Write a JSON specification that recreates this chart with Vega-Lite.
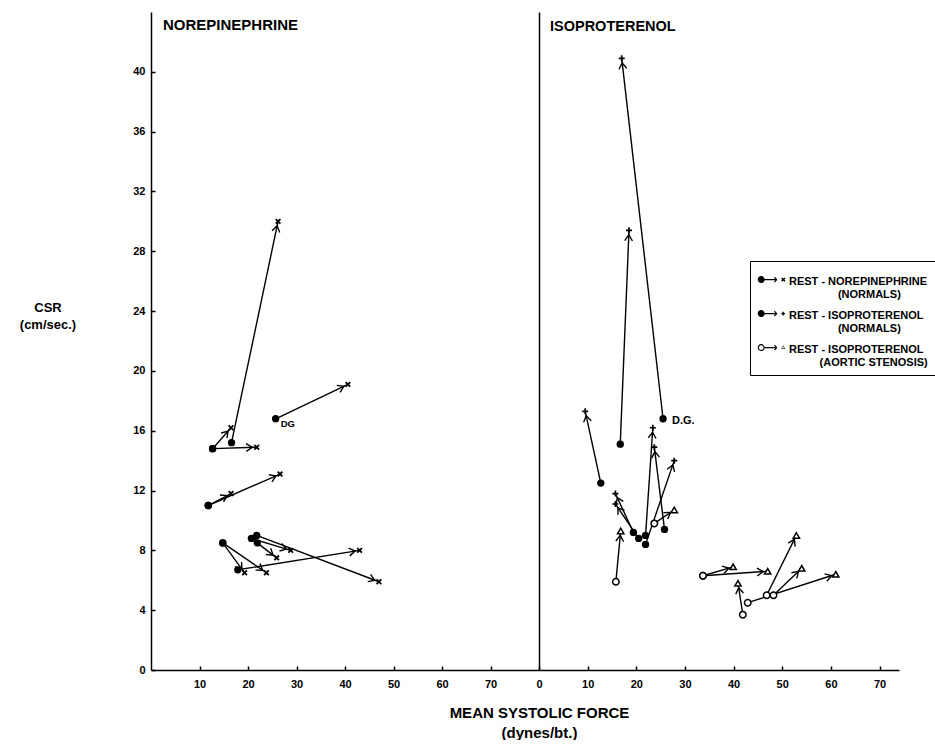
{
  "$schema": "https://vega.github.io/schema/vega-lite/v6.json",
  "padding": {"left": 19, "top": 12, "right": 0, "bottom": 0},
  "autosize": {"type": "pad"},
  "background": "white",
  "config": {
    "view": {"stroke": null},
    "font": "Liberation Sans",
    "axis": {
      "grid": false,
      "domainColor": "black",
      "domainWidth": 1.5,
      "tickColor": "black",
      "tickWidth": 1.5,
      "labelColor": "black",
      "labelFont": "Liberation Sans",
      "labelFontWeight": "bold",
      "labelFontSize": 11,
      "labelFlush": false,
      "titleColor": "black",
      "titleFont": "Liberation Sans",
      "titleFontWeight": "bold"
    }
  },
  "data": {
    "values": [
      {"p": "NE", "s": "NE", "x1": 12.7, "y1": 14.8, "x2": 21.8, "y2": 14.9},
      {"p": "NE", "s": "NE", "x1": 12.7, "y1": 14.8, "x2": 16.5, "y2": 16.2},
      {"p": "NE", "s": "NE", "x1": 16.6, "y1": 15.2, "x2": 26.2, "y2": 30.0},
      {"p": "NE", "s": "NE", "x1": 25.7, "y1": 16.8, "x2": 40.6, "y2": 19.1, "lab": "DG"},
      {"p": "NE", "s": "NE", "x1": 11.8, "y1": 11.0, "x2": 16.5, "y2": 11.8},
      {"p": "NE", "s": "NE", "x1": 11.8, "y1": 11.0, "x2": 26.6, "y2": 13.1},
      {"p": "NE", "s": "NE", "x1": 14.8, "y1": 8.5, "x2": 19.3, "y2": 6.5},
      {"p": "NE", "s": "NE", "x1": 14.8, "y1": 8.5, "x2": 23.8, "y2": 6.5},
      {"p": "NE", "s": "NE", "x1": 17.9, "y1": 6.7, "x2": 43.0, "y2": 8.0},
      {"p": "NE", "s": "NE", "x1": 20.7, "y1": 8.8, "x2": 28.8, "y2": 8.0},
      {"p": "NE", "s": "NE", "x1": 21.9, "y1": 8.5, "x2": 25.9, "y2": 7.5},
      {"p": "NE", "s": "NE", "x1": 21.8, "y1": 9.0, "x2": 47.0, "y2": 5.9},
      {"p": "ISO", "s": "ISO", "x1": 25.5, "y1": 16.8, "x2": 17.0, "y2": 40.9, "lab": "D.G."},
      {"p": "ISO", "s": "ISO", "x1": 16.7, "y1": 15.1, "x2": 18.5, "y2": 29.4},
      {"p": "ISO", "s": "ISO", "x1": 12.7, "y1": 12.5, "x2": 9.5, "y2": 17.3},
      {"p": "ISO", "s": "ISO", "x1": 19.4, "y1": 9.2, "x2": 15.7, "y2": 11.8},
      {"p": "ISO", "s": "ISO", "x1": 20.5, "y1": 8.8, "x2": 15.7, "y2": 11.1},
      {"p": "ISO", "s": "ISO", "x1": 21.9, "y1": 9.0, "x2": 23.4, "y2": 16.2},
      {"p": "ISO", "s": "ISO", "x1": 21.9, "y1": 8.4, "x2": 27.8, "y2": 14.0},
      {"p": "ISO", "s": "ISO", "x1": 25.8, "y1": 9.4, "x2": 23.7, "y2": 14.9},
      {"p": "ISO", "s": "AS", "x1": 15.8, "y1": 5.9, "x2": 16.8, "y2": 9.3},
      {"p": "ISO", "s": "AS", "x1": 23.7, "y1": 9.8, "x2": 27.8, "y2": 10.7},
      {"p": "ISO", "s": "AS", "x1": 33.7, "y1": 6.3, "x2": 39.9, "y2": 6.9},
      {"p": "ISO", "s": "AS", "x1": 33.7, "y1": 6.3, "x2": 47.0, "y2": 6.6},
      {"p": "ISO", "s": "AS", "x1": 41.9, "y1": 3.7, "x2": 40.9, "y2": 5.8},
      {"p": "ISO", "s": "AS", "x1": 42.9, "y1": 4.5, "x2": 61.0, "y2": 6.4},
      {"p": "ISO", "s": "AS", "x1": 46.8, "y1": 5.0, "x2": 52.9, "y2": 9.0},
      {"p": "ISO", "s": "AS", "x1": 48.2, "y1": 5.0, "x2": 54.0, "y2": 6.8}
    ]
  },
  "spacing": 0,
  "bounds": "flush",
  "hconcat": [
    {
      "width": 388,
      "height": 658,
      "title": {"text": "NOREPINEPHRINE", "anchor": "start", "frame": "group", "dx": 12, "offset": -33, "baseline": "alphabetic", "fontSize": 15, "fontWeight": "bold", "font": "Liberation Sans", "color": "black"},
      "transform": [
        {"filter": "datum.p === 'NE'"},
        {"calculate": "atan2((datum.y1 - datum.y2) * 14.955, (datum.x2 - datum.x1) * 4.85) * 180 / PI", "as": "ang"}
      ],
      "layer": [
        {
          "mark": {"type": "rule", "stroke": "black", "strokeWidth": 1.4},
          "encoding": {
            "x": {"field": "x1", "type": "quantitative", "scale": {"domain": [0, 80], "nice": false},
              "axis": {"values": [10, 20, 30, 40, 50, 60, 70], "tickSize": -4, "labelPadding": 12,
                "title": ["MEAN SYSTOLIC FORCE", "(dynes/bt.)"], "titleFontSize": 15, "titleX": 388, "titleY": 47,
                "titleAlign": "center", "titleBaseline": "alphabetic", "titleLineHeight": 20}},
            "y": {"field": "y1", "type": "quantitative", "scale": {"domain": [0, 44], "nice": false},
              "axis": {"values": [0, 4, 8, 12, 16, 20, 24, 28, 32, 36, 40], "tickSize": -4, "labelPadding": 10,
                "title": ["CSR", "(cm/sec.)"], "titleFontSize": 13, "titleAngle": 0, "titleX": -103.5, "titleY": 299,
                "titleAlign": "center", "titleBaseline": "alphabetic", "titleLineHeight": 17}},
            "x2": {"field": "x2"},
            "y2": {"field": "y2"}
          }
        },
        {
          "mark": {"type": "point", "shape": "M-3.5,-1.3L-1.5,0L-3.5,1.3", "filled": false, "stroke": "black", "strokeWidth": 1.4, "size": 36, "opacity": 1},
          "encoding": {
            "x": {"field": "x2", "type": "quantitative"},
            "y": {"field": "y2", "type": "quantitative"},
            "angle": {"field": "ang", "type": "quantitative", "scale": null}
          }
        },
        {
          "mark": {"type": "point", "shape": "circle", "filled": true, "fill": "black", "size": 54, "opacity": 1},
          "encoding": {
            "x": {"field": "x1", "type": "quantitative"},
            "y": {"field": "y1", "type": "quantitative"}
          }
        },
        {
          "mark": {"type": "point", "shape": "M-1,-1L1,1M-1,1L1,-1", "filled": false, "stroke": "black", "strokeWidth": 1.8, "size": 22, "opacity": 1},
          "encoding": {
            "x": {"field": "x2", "type": "quantitative"},
            "y": {"field": "y2", "type": "quantitative"}
          }
        },
        {
          "transform": [{"filter": "datum.lab"}],
          "mark": {"type": "text", "align": "left", "baseline": "middle", "dx": 5, "dy": 5, "fontSize": 9.5, "fontWeight": "bold", "font": "Liberation Sans", "color": "black"},
          "encoding": {
            "x": {"field": "x1", "type": "quantitative"},
            "y": {"field": "y1", "type": "quantitative"},
            "text": {"field": "lab"}
          }
        }
      ]
    },
    {
      "width": 360,
      "height": 658,
      "title": {"text": "ISOPROTERENOL", "anchor": "start", "frame": "group", "dx": 11, "offset": -33, "baseline": "alphabetic", "fontSize": 14.5, "fontWeight": "bold", "font": "Liberation Sans", "color": "black"},
      "transform": [
        {"filter": "datum.p === 'ISO'"},
        {"calculate": "atan2((datum.y1 - datum.y2) * 14.955, (datum.x2 - datum.x1) * 4.865) * 180 / PI", "as": "ang"}
      ],
      "layer": [
        {
          "mark": {"type": "rule", "stroke": "black", "strokeWidth": 1.4},
          "encoding": {
            "x": {"field": "x1", "type": "quantitative", "scale": {"domain": [0, 74], "nice": false},
              "axis": {"values": [0, 10, 20, 30, 40, 50, 60, 70], "tickSize": -4, "labelPadding": 12, "title": null}},
            "y": {"field": "y1", "type": "quantitative", "scale": {"domain": [0, 44], "nice": false},
              "axis": {"labels": false, "ticks": false, "title": null, "domain": true}},
            "x2": {"field": "x2"},
            "y2": {"field": "y2"}
          }
        },
        {
          "mark": {"type": "point", "shape": "M-3.5,-1.3L-1.5,0L-3.5,1.3", "filled": false, "stroke": "black", "strokeWidth": 1.4, "size": 36, "opacity": 1},
          "encoding": {
            "x": {"field": "x2", "type": "quantitative"},
            "y": {"field": "y2", "type": "quantitative"},
            "angle": {"field": "ang", "type": "quantitative", "scale": null}
          }
        },
        {
          "transform": [{"filter": "datum.s === 'ISO'"}],
          "mark": {"type": "point", "shape": "circle", "filled": true, "fill": "black", "size": 54, "opacity": 1},
          "encoding": {
            "x": {"field": "x1", "type": "quantitative"},
            "y": {"field": "y1", "type": "quantitative"}
          }
        },
        {
          "transform": [{"filter": "datum.s === 'AS'"}],
          "mark": {"type": "point", "shape": "circle", "filled": false, "fill": "white", "stroke": "black", "strokeWidth": 1.5, "size": 42, "opacity": 1},
          "encoding": {
            "x": {"field": "x1", "type": "quantitative"},
            "y": {"field": "y1", "type": "quantitative"}
          }
        },
        {
          "transform": [{"filter": "datum.s === 'ISO'"}],
          "mark": {"type": "point", "shape": "M-1,0L1,0M0,-1L0,1", "filled": false, "stroke": "black", "strokeWidth": 1.7, "size": 36, "opacity": 1},
          "encoding": {
            "x": {"field": "x2", "type": "quantitative"},
            "y": {"field": "y2", "type": "quantitative"}
          }
        },
        {
          "transform": [{"filter": "datum.s === 'AS'"}],
          "mark": {"type": "point", "shape": "triangle-up", "filled": false, "fill": "white", "stroke": "black", "strokeWidth": 1.5, "size": 40, "opacity": 1},
          "encoding": {
            "x": {"field": "x2", "type": "quantitative"},
            "y": {"field": "y2", "type": "quantitative"}
          }
        },
        {
          "transform": [{"filter": "datum.lab"}],
          "mark": {"type": "text", "align": "left", "baseline": "middle", "dx": 9, "dy": 2, "fontSize": 11, "fontWeight": "bold", "font": "Liberation Sans", "color": "black"},
          "encoding": {
            "x": {"field": "x1", "type": "quantitative"},
            "y": {"field": "y1", "type": "quantitative"},
            "text": {"field": "lab"}
          }
        },
        {
          "transform": [{"filter": "false"}],
          "mark": {"type": "point", "filled": true, "color": "black", "strokeWidth": 0, "size": 784, "opacity": 1},
          "encoding": {
            "x": {"field": "x1", "type": "quantitative"},
            "y": {"field": "y1", "type": "quantitative"},
            "shape": {"field": "s", "type": "nominal",
              "scale": {"domain": ["NE", "ISO", "AS"], "range": [
                "M-0.45,-0.17A0.25,0.25,0,1,1,-0.95,-0.17A0.25,0.25,0,1,1,-0.45,-0.17Z M-0.45,-0.22L0.41,-0.22L0.41,-0.12L-0.45,-0.12Z M0.267,-0.369L0.447,-0.199L0.393,-0.141L0.213,-0.311Z M0.213,-0.029L0.393,-0.199L0.447,-0.141L0.267,0.029Z M0.795,-0.325L1.035,-0.085L0.965,-0.015L0.725,-0.255Z M0.725,-0.085L0.965,-0.325L1.035,-0.255L0.795,-0.015Z",
                "M-0.45,-0.17A0.25,0.25,0,1,1,-0.95,-0.17A0.25,0.25,0,1,1,-0.45,-0.17Z M-0.45,-0.22L0.41,-0.22L0.41,-0.12L-0.45,-0.12Z M0.267,-0.369L0.447,-0.199L0.393,-0.141L0.213,-0.311Z M0.213,-0.029L0.393,-0.199L0.447,-0.141L0.267,0.029Z M0.74,-0.22L1.0,-0.22L1.0,-0.12L0.74,-0.12Z M0.82,-0.3L0.92,-0.3L0.92,-0.04L0.82,-0.04Z",
                "M-0.45,-0.17A0.25,0.25,0,1,1,-0.95,-0.17A0.25,0.25,0,1,1,-0.45,-0.17Z M-0.53,-0.17A0.17,0.17,0,1,0,-0.87,-0.17A0.17,0.17,0,1,0,-0.53,-0.17Z M-0.45,-0.22L0.41,-0.22L0.41,-0.12L-0.45,-0.12Z M0.267,-0.369L0.447,-0.199L0.393,-0.141L0.213,-0.311Z M0.213,-0.029L0.393,-0.199L0.447,-0.141L0.267,0.029Z M0.87,-0.34L1.02,-0.07L0.72,-0.07Z M0.87,-0.26L0.775,-0.105L0.965,-0.105Z"
              ]},
              "legend": {"title": null, "orient": "none", "legendX": 599, "legendY": 249, "strokeColor": "black", "padding": 7,
                "symbolSize": 784, "symbolFillColor": "black", "symbolStrokeWidth": 0, "labelOffset": 4, "rowPadding": 2,
                "labelFont": "Liberation Sans", "labelFontWeight": "bold", "labelFontSize": 11, "labelColor": "black", "labelLimit": 400,
                "encode": {
                  "symbols": {"update": {"fill": {"value": "black"}, "strokeWidth": {"value": 0}, "opacity": {"value": 1}}},
                  "labels": {"update": {"lineHeight": {"value": 14}}}
                },
                "labelExpr": "datum.label === 'NE' ? ['REST - NOREPINEPHRINE', '\u200b\u00a0\u00a0\u00a0\u00a0\u00a0\u00a0\u00a0\u00a0\u00a0\u00a0\u00a0\u00a0\u00a0\u00a0\u00a0\u00a0(NORMALS)'] : datum.label === 'ISO' ? ['REST - ISOPROTERENOL', '\u200b\u00a0\u00a0\u00a0\u00a0\u00a0\u00a0\u00a0\u00a0\u00a0\u00a0\u00a0\u00a0\u00a0\u00a0\u00a0\u00a0(NORMALS)'] : ['REST - ISOPROTERENOL', '\u200b\u00a0\u00a0\u00a0\u00a0\u00a0\u00a0\u00a0\u00a0\u00a0\u00a0(AORTIC STENOSIS)']"}}
          }
        }
      ]
    }
  ]
}
